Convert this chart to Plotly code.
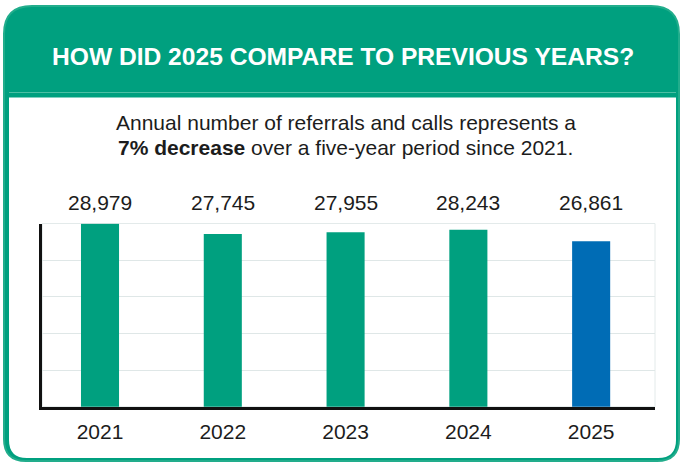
import plotly.graph_objects as go

# ---- data ----
years = ["2021", "2022", "2023", "2024", "2025"]
counts = [28979, 27745, 27955, 28243, 26861]
value_labels = ["28,979", "27,745", "27,955", "28,243", "26,861"]
highlight_year = "2025"

title_text = "<b>HOW DID 2025 COMPARE TO PREVIOUS YEARS?</b>"
subtitle_line1 = "Annual number of referrals and calls represents a"
subtitle_line2 = "<b>7% decrease</b> over a five-year period since 2021."

# ---- style ----
W, H = 684, 463
GREEN = "#00a07f"
BLUE = "#006cb5"
FONT = "Liberation Sans, Arial, Helvetica, sans-serif"
TXT = "#1c1c1c"


def px(x):
    return x / W


def py(y):
    return 1 - y / H


def rrect(x0, y0, x1, y1, rt, rb):
    pts = [
        ("M", [(x0 + rt, y0)]),
        ("L", [(x1 - rt, y0)]),
        ("Q", [(x1, y0), (x1, y0 + rt)]),
        ("L", [(x1, y1 - rb)]),
        ("Q", [(x1, y1), (x1 - rb, y1)]),
        ("L", [(x0 + rb, y1)]),
        ("Q", [(x0, y1), (x0, y1 - rb)]),
        ("L", [(x0, y0 + rt)]),
        ("Q", [(x0, y0), (x0 + rt, y0)]),
    ]
    s = ""
    for cmd, p in pts:
        s += cmd + " " + " ".join(f"{px(a):.5f},{py(b):.5f}" for a, b in p) + " "
    return s + "Z"


colors = [BLUE if y == highlight_year else GREEN for y in years]

fig = go.Figure()
fig.add_trace(
    go.Bar(
        x=years,
        y=counts,
        marker=dict(color=colors, line=dict(width=0)),
        width=0.31,
        hoverinfo="skip",
        showlegend=False,
    )
)

# plot area geometry (px)
L, R, T, B = 42.3, 655.0, 223.5, 406.7

shapes = [
    dict(type="path", xref="paper", yref="paper", path=rrect(4, 6, 679, 461, 28, 22),
         fillcolor=GREEN, line=dict(color="#22ad8c", width=2), layer="below"),
    dict(type="path", xref="paper", yref="paper", path=rrect(9, 97.5, 676, 458, 0, 18),
         fillcolor="white", line=dict(width=0), layer="below"),
    dict(type="line", xref="paper", yref="paper", x0=px(9), x1=px(676), y0=py(92.5), y1=py(92.5),
         line=dict(color="#4dbfa4", width=1), layer="below"),
    dict(type="rect", xref="x domain", yref="y domain", x0=0, x1=1, y0=0, y1=1,
         line=dict(color="#e3eaea", width=1), layer="below"),
]

annotations = [
    dict(text=title_text, x=px(343.5), y=py(56), xref="paper", yref="paper", showarrow=False,
         xanchor="center", yanchor="middle", font=dict(family=FONT, size=24.6, color="white")),
    dict(text=subtitle_line1, x=px(345.5), y=py(122.5), xref="paper", yref="paper", showarrow=False,
         xanchor="center", yanchor="middle", font=dict(family=FONT, size=21, color=TXT)),
    dict(text=subtitle_line2, x=px(345.5), y=py(147.5), xref="paper", yref="paper", showarrow=False,
         xanchor="center", yanchor="middle", font=dict(family=FONT, size=21, color=TXT)),
]
for i, lab in enumerate(value_labels):
    annotations.append(
        dict(text=lab, x=i, xref="x", y=py(202.5), yref="paper",
             showarrow=False, xanchor="center", yanchor="middle",
             font=dict(family=FONT, size=21, color=TXT))
    )

fig.update_layout(
    width=W,
    height=H,
    margin=dict(l=0, r=0, t=0, b=0),
    paper_bgcolor="rgba(0,0,0,0)",
    plot_bgcolor="#f3f8f8",
    shapes=shapes,
    annotations=annotations,
    xaxis=dict(
        domain=[px(L), px(R)],
        type="category",
        range=[-0.47, 4.52],
        showline=True,
        linecolor="#111111",
        linewidth=2.5,
        showgrid=False,
        ticks="",
        ticklabelstandoff=4,
        tickfont=dict(family=FONT, size=21, color=TXT),
        fixedrange=True,
    ),
    yaxis=dict(
        domain=[py(B), py(T)],
        range=[7000, 29000],
        tick0=7000,
        dtick=4400,
        showticklabels=False,
        showline=True,
        linecolor="#111111",
        linewidth=2.5,
        gridcolor="#dfe7e7",
        gridwidth=1,
        zeroline=False,
        ticks="",
        fixedrange=True,
    ),
    bargap=0.69,
)

fig.write_html(
    "out.html",
    config={"displayModeBar": False},
    post_script="document.body.style.margin='0';document.body.style.overflow='hidden';",
)
